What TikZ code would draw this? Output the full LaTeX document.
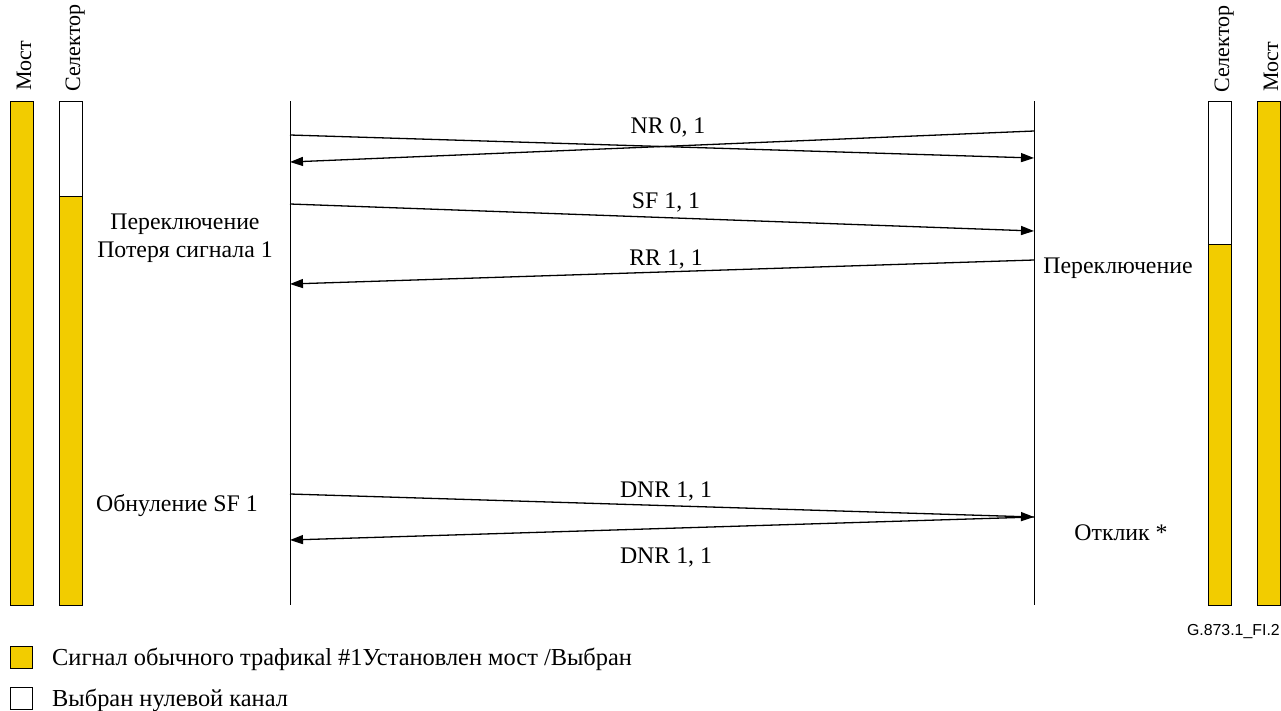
\documentclass[tikz,border=0pt]{standalone}
\usepackage{fontspec}
\setmainfont{Liberation Serif}
\newfontfamily\sansf{Liberation Sans}
\usetikzlibrary{arrows.meta}
\definecolor{bary}{RGB}{242,204,0}
\begin{document}
\begin{tikzpicture}[x=1pt,y=-1pt,
  lbl/.style={font=\fontsize{23.8}{28}\selectfont, inner sep=0pt, anchor=base},
  vlbl/.style={font=\fontsize{22}{26}\selectfont, inner sep=0pt, rotate=90, anchor=base west},
  bar/.style={draw=black, line width=0.8pt, fill=bary},
  wbar/.style={draw=black, line width=0.8pt, fill=white},
  life/.style={line width=1pt},
  msg/.style={line width=1.3pt, -{Triangle[length=13pt,width=9pt]}}]
\useasboundingbox (0,0) rectangle (1281,710);
% bars
\draw[bar] (10,101) rectangle (33,605);
\fill[white] (59,101) rectangle (82,196);
\fill[bary] (59,196) rectangle (82,605);
\draw[line width=0.8pt] (59,101) rectangle (82,605) (59,196) -- (82,196);
\fill[white] (1208,101) rectangle (1231,244);
\fill[bary] (1208,244) rectangle (1231,605);
\draw[line width=0.8pt] (1208,101) rectangle (1231,605) (1208,244) -- (1231,244);
\draw[bar] (1257,101) rectangle (1280,605);
% vertical labels
\node[vlbl] (mostL) at (31,91) {Мост};
\node[vlbl] (selL) at (80,92) {Селектор};
\node[vlbl] (selR) at (1229,93) {Селектор};
\node[vlbl] (mostR) at (1278,92) {Мост};
% lifelines
\coordinate (Atop) at (290,101); \coordinate (Abot) at (290,605);
\coordinate (Btop) at (1034,101); \coordinate (Bbot) at (1034,605);
\draw[life] (Atop) -- (Abot);
\draw[life] (Btop) -- (Bbot);
% message points
\coordinate (a1) at (290,135); \coordinate (b1) at (1034,158);
\coordinate (b2) at (1034,131); \coordinate (a2) at (290,162);
\coordinate (a3) at (290,204); \coordinate (b3) at (1034,231);
\coordinate (b4) at (1034,260); \coordinate (a4) at (290,284);
\coordinate (a5) at (290,494); \coordinate (b5) at (1034,517);
\coordinate (b6) at (1034,517); \coordinate (a6) at (290,540);
\draw[msg] (a1) -- (b1);
\draw[msg] (b2) -- (a2);
\draw[msg] (a3) -- (b3);
\draw[msg] (b4) -- (a4);
\draw[msg] (a5) -- (b5);
\draw[msg] (b6) -- (a6);
% message labels
\node[lbl] (m1) at (668,133) {NR 0, 1};
\node[lbl] (m2) at (666,208) {SF 1, 1};
\node[lbl] (m3) at (666,265) {RR 1, 1};
\node[lbl] (m4) at (666,497) {DNR 1, 1};
\node[lbl] (m5) at (666,563) {DNR 1, 1};
% side labels
\node[lbl] (l1) at (185,229) {Переключение};
\node[lbl] (l2) at (185,257) {Потеря сигнала 1};
\node[lbl] (l3) at (177,511) {Обнуление SF 1};
\node[lbl] (r1) at (1118,273) {Переключение};
\node[lbl] (r2) at (1121,540) {Отклик *};
% legend
\node[bar, minimum width=22pt, minimum height=22pt, inner sep=0pt] (k1) at (21,657) {};
\node[wbar, minimum width=22pt, minimum height=22pt, inner sep=0pt] (k2) at (21,698) {};
\node[lbl, anchor=base west, font=\fontsize{24.4}{28}\selectfont] (t1) at (52,665) {Сигнал обычного трафикаl \#1Установлен мост /Выбран};
\node[lbl, anchor=base west, font=\fontsize{24.4}{28}\selectfont] (t2) at (52,706) {Выбран нулевой канал};
\node[font=\sansf\fontsize{15.9}{18}\selectfont, inner sep=0pt, anchor=base east] (fig) at (1280,635) {G.873.1\_FI.2};
\end{tikzpicture}
\end{document}
